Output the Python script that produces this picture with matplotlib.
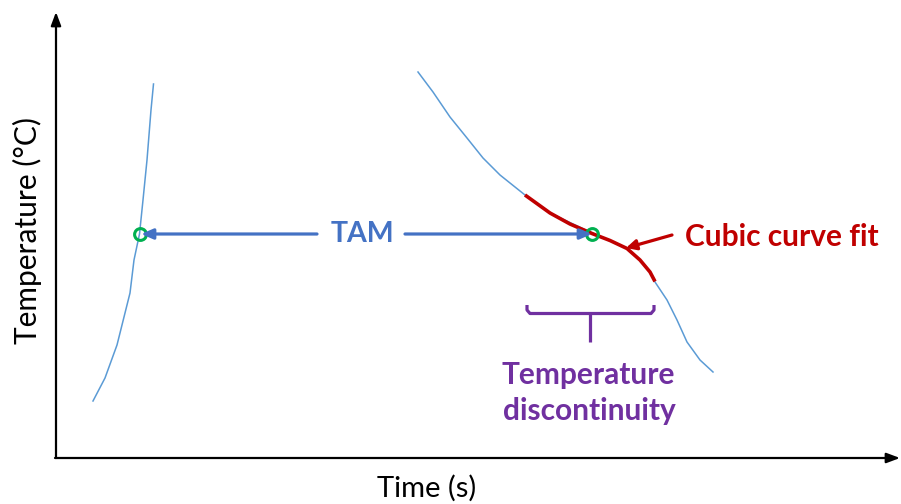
import matplotlib
matplotlib.use("Agg")
import matplotlib.pyplot as plt

plt.rcParams['font.family'] = ['Lato', 'DejaVu Sans']

# Heating curve (left)
heat_t = [93, 105, 117, 130, 134, 139.5, 143, 147, 151, 153.5]
heat_T = [401, 378, 345, 293, 260, 234, 200, 160, 110, 84]

# Cooling curve (right)
cool_t = [418, 433, 450, 467, 483, 500, 525, 550, 592, 627, 640, 650, 655,
          667, 677, 687, 700, 713]
cool_T = [72, 92, 117, 138, 158, 175, 195, 213, 233, 248.5, 260, 272, 282,
          300, 320, 342, 360, 372]

# Cubic fit segment
fit_t = [525, 550, 570, 592, 610, 627, 640, 650, 655]
fit_T = [195, 213, 224, 233.5, 240.5, 248.5, 260, 272, 281.5]

# TAM points
tam_t = [139.5, 592]
tam_T = [234, 234]

BLUE = '#5B9BD5'
RED = '#C00000'
GREEN = '#00B050'
ARROW = '#4472C4'
PURPLE = '#7030A0'

fig = plt.figure(figsize=(9.01, 5.04), dpi=100)
ax = fig.add_axes([0, 0, 1, 1])
ax.set_xlim(0, 901)
ax.set_ylim(504, 0)
ax.axis('off')

# Axes arrows
ax.annotate('', xy=(56, 12), xytext=(56, 458),
            arrowprops=dict(arrowstyle='-|>,head_length=0.8,head_width=0.3', color='black', lw=1.6, shrinkA=0, shrinkB=0))
ax.annotate('', xy=(900, 458), xytext=(55, 458),
            arrowprops=dict(arrowstyle='-|>,head_length=0.8,head_width=0.3', color='black', lw=1.6, shrinkA=0, shrinkB=0))

ax.text(427, 497, 'Time (s)', ha='center', va='baseline', fontsize=21, color='black')
ax.text(27, 230, 'Temperature (°C)', ha='center', va='center', rotation=90, fontsize=21.5, color='black')

# Curves
ax.plot(heat_t, heat_T, color=BLUE, lw=1.1, solid_joinstyle='round')
ax.plot(cool_t, cool_T, color=BLUE, lw=1.1, solid_joinstyle='round')
ax.plot(fit_t, fit_T, color=RED, lw=2.6, solid_capstyle='butt', solid_joinstyle='round')

# TAM arrows
ax.annotate('', xy=(141, 234), xytext=(317, 234),
            arrowprops=dict(arrowstyle='-|>,head_length=0.7,head_width=0.3', color=ARROW, lw=2.3, shrinkA=0, shrinkB=0))
ax.annotate('', xy=(592, 234), xytext=(405, 234),
            arrowprops=dict(arrowstyle='-|>,head_length=0.7,head_width=0.3', color=ARROW, lw=2.3, shrinkA=0, shrinkB=0))
ax.text(362, 234, 'TAM', ha='center', va='center', fontsize=20.5, fontweight='bold', color=ARROW)

# Green circles
ax.plot(tam_t, tam_T, 'o', ms=8.5, mfc='none', mec=GREEN, mew=2.2)

# Cubic curve fit label
ax.annotate('', xy=(626, 248), xytext=(672, 235),
            arrowprops=dict(arrowstyle='-|>,head_length=0.6,head_width=0.3', color=RED, lw=2.3, shrinkA=0, shrinkB=0))
ax.text(782, 246, 'Cubic curve fit', ha='center', va='baseline', fontsize=21.5, fontweight='bold', color=RED)

# Purple bracket
ax.plot([527, 527, 530, 651, 654, 654], [305, 310, 313.5, 313.5, 310, 305],
        color=PURPLE, lw=2.3, solid_joinstyle='round', solid_capstyle='butt')
ax.plot([590, 590], [313.5, 342], color=PURPLE, lw=2.3, solid_capstyle='butt')
ax.text(588, 384, 'Temperature', ha='center', va='baseline', fontsize=21.5, fontweight='bold', color=PURPLE)
ax.text(589, 420, 'discontinuity', ha='center', va='baseline', fontsize=21.5, fontweight='bold', color=PURPLE)

fig.savefig('out.png', dpi=100)
